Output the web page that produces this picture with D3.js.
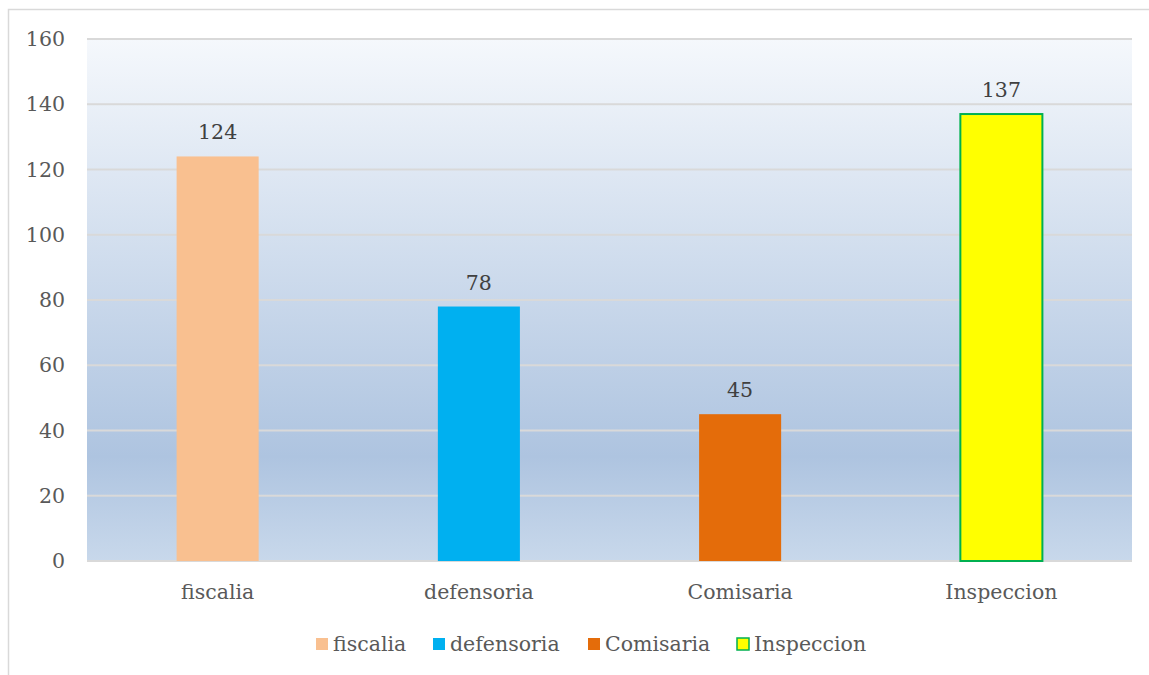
<!DOCTYPE html>
<html>
<head>
<meta charset="utf-8">
<script src="https://cdn.jsdelivr.net/npm/d3@7"></script>
<style>
  body { margin: 0; background: #fff; }
  text { font-family: "DejaVu Serif", serif; fill: #595959; }
</style>
</head>
<body>
<div id="chart"></div>
<script>
// data
var categories = ["fiscalia", "defensoria", "Comisaria", "Inspeccion"];
var values = [124, 78, 45, 137];
var fills = ["#f9c090", "#00b0f0", "#e46c0a", "#ffff00"];
var strokes = [null, null, null, "#00b050"];
var yTicks = [0, 20, 40, 60, 80, 100, 120, 140, 160];

var W = 1149, H = 675;
var FS = "20.5px";
var margin = { top: 39, right: 17, bottom: 114, left: 87 },
    width = W - margin.left - margin.right,
    height = H - margin.top - margin.bottom;

var svg = d3.select("#chart").append("svg")
    .attr("width", W)
    .attr("height", H);

// outer chart border
svg.append("rect")
    .attr("x", 8.5).attr("y", 9.5)
    .attr("width", W).attr("height", H)
    .attr("fill", "none")
    .attr("stroke", "#d9d9d9")
    .attr("stroke-width", 1.5);

var defs = svg.append("defs");
var grad = defs.append("linearGradient")
    .attr("id", "bg").attr("x1", 0).attr("y1", 0).attr("x2", 0).attr("y2", 1);
grad.append("stop").attr("offset", "0%").attr("stop-color", "#f5f8fc");
grad.append("stop").attr("offset", "80%").attr("stop-color", "#aec4e0");
grad.append("stop").attr("offset", "100%").attr("stop-color", "#c8d8eb");

var g = svg.append("g")
    .attr("transform", "translate(" + margin.left + "," + margin.top + ")");

var x = d3.scaleBand()
    .domain(categories)
    .range([0, width])
    .paddingInner(0.686)
    .paddingOuter(0.343);

var y = d3.scaleLinear()
    .domain([0, 160])
    .range([height, 0]);

// plot background
g.append("rect")
    .attr("width", width)
    .attr("height", height)
    .attr("fill", "url(#bg)");

// gridlines
g.selectAll(".grid")
    .data(yTicks)
    .enter().append("line")
    .attr("x1", 0).attr("x2", width)
    .attr("y1", function (d) { return y(d); })
    .attr("y2", function (d) { return y(d); })
    .attr("stroke", "#d9d9d9")
    .attr("stroke-width", 2);

// y axis labels
var yAxis = g.append("g")
    .call(d3.axisLeft(y).tickValues(yTicks).tickSize(0).tickPadding(22));
yAxis.select(".domain").remove();
yAxis.selectAll("text")
    .style("font-family", "DejaVu Serif, serif")
    .style("font-size", FS)
    .attr("fill", "#595959");

// x axis labels
var xAxis = g.append("g")
    .attr("transform", "translate(0," + height + ")")
    .call(d3.axisBottom(x).tickSize(0).tickPadding(23));
xAxis.select(".domain").remove();
xAxis.selectAll("text")
    .style("font-family", "DejaVu Serif, serif")
    .style("font-size", FS)
    .attr("fill", "#595959");

// bars
g.selectAll(".bar")
    .data(values)
    .enter().append("rect")
    .attr("class", "bar")
    .attr("x", function (d, i) { return x(categories[i]); })
    .attr("y", function (d) { return y(d); })
    .attr("width", x.bandwidth())
    .attr("height", function (d) { return height - y(d); })
    .attr("fill", function (d, i) { return fills[i]; })
    .attr("stroke", function (d, i) { return strokes[i] || "none"; })
    .attr("stroke-width", 2);

// value labels
g.selectAll(".val")
    .data(values)
    .enter().append("text")
    .attr("x", function (d, i) { return x(categories[i]) + x.bandwidth() / 2; })
    .attr("y", function (d) { return y(d) - 17; })
    .attr("text-anchor", "middle")
    .style("font-size", FS)
    .style("fill", "#404040")
    .text(function (d) { return d; });

// legend
var legendX = [316, 433, 588, 737];
var legend = svg.append("g").attr("transform", "translate(0,644)");
var items = legend.selectAll(".item")
    .data(categories)
    .enter().append("g")
    .attr("transform", function (d, i) { return "translate(" + legendX[i] + ",0)"; });
items.append("rect")
    .attr("x", 0).attr("y", -6)
    .attr("width", 12).attr("height", 12)
    .attr("fill", function (d, i) { return fills[i]; })
    .attr("stroke", function (d, i) { return strokes[i] || "none"; })
    .attr("stroke-width", 1.5);
items.append("text")
    .attr("x", 17)
    .attr("dy", "0.35em")
    .style("font-size", FS)
    .text(function (d) { return d; });
</script>
</body>
</html>
